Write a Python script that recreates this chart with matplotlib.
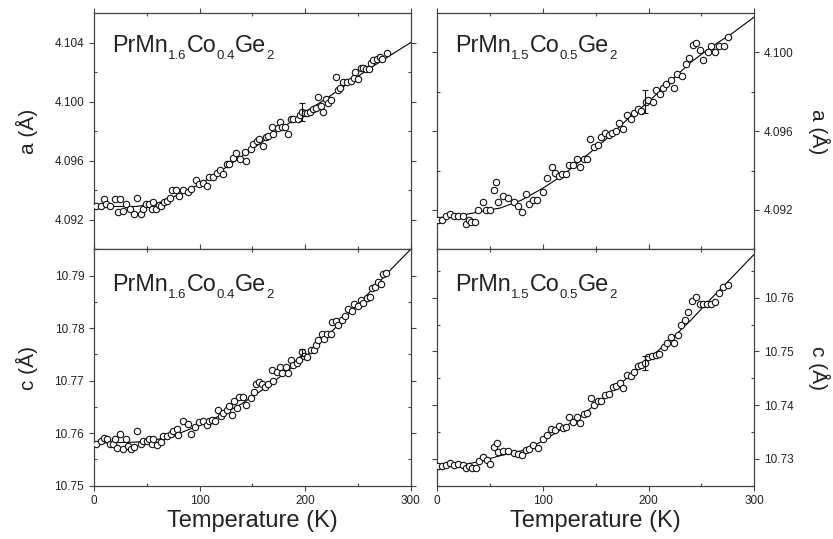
import matplotlib
matplotlib.use("Agg")
import matplotlib.pyplot as plt
from matplotlib.ticker import MultipleLocator, FormatStrFormatter
from matplotlib.transforms import offset_copy

plt.rcParams['font.family'] = ['Liberation Sans', 'DejaVu Sans']

# ---------------- data ----------------
# Top-left: a(T), PrMn1.6Co0.4Ge2
t_a16 = [1.6, 6.3, 9.5, 11.4, 15.2, 19.9, 23.1, 24.6, 27.8, 30.3, 34.1, 37.9, 41.0, 44.2, 46.1,
         48.9, 52.1, 54.6, 56.2, 58.7, 61.6, 63.5, 66.6, 68.8, 72.0, 74.2, 77.7, 80.5, 84.0, 89.4,
         92.2, 96.3, 99.8, 103.6, 107.4, 108.9, 113.0, 116.2, 119.4, 122.5, 125.7, 128.2, 132.0,
         134.2, 138.0, 143.0, 144.3, 148.4, 150.9, 154.1, 156.6, 160.4, 162.6, 165.1, 168.3, 169.9,
         174.0, 176.2, 177.8, 181.2, 184.1, 186.3, 188.8, 193.6, 195.1, 196.7, 199.9, 202.1, 204.9,
         207.8, 210.0, 212.5, 214.7, 217.2, 219.5, 222.0, 224.5, 229.2, 230.8, 233.0, 236.2, 239.3,
         243.1, 246.3, 247.2, 250.1, 252.9, 255.1, 257.7, 260.5, 262.1, 264.6, 267.8, 270.9, 272.5,
         277.2]
a16 = [4.0929, 4.0929, 4.0934, 4.0931, 4.0929, 4.0934, 4.0925, 4.0934, 4.0926, 4.0931, 4.0927,
       4.0924, 4.0935, 4.0924, 4.0927, 4.0931, 4.0931, 4.0927, 4.0932, 4.0927, 4.0930, 4.0929,
       4.0932, 4.0933, 4.0935, 4.0940, 4.0940, 4.0936, 4.0940, 4.0939, 4.0941, 4.0947, 4.0944,
       4.0945, 4.0943, 4.0949, 4.0949, 4.0952, 4.0954, 4.0951, 4.0958, 4.0958, 4.0962, 4.0965,
       4.0961, 4.0966, 4.0960, 4.0968, 4.0971, 4.0973, 4.0975, 4.0970, 4.0976, 4.0977, 4.0983,
       4.0978, 4.0982, 4.0986, 4.0983, 4.0983, 4.0978, 4.0988, 4.0988, 4.0988, 4.0991, 4.0993,
       4.0992, 4.0992, 4.0993, 4.0995, 4.0996, 4.1003, 4.0997, 4.0993, 4.1002, 4.0999, 4.1001,
       4.1017, 4.1008, 4.1009, 4.1013, 4.1013, 4.1014, 4.1016, 4.1020, 4.1015, 4.1023, 4.1023,
       4.1022, 4.1022, 4.1026, 4.1028, 4.1029, 4.1030, 4.1029, 4.1033]
fit_t = [0, 20, 40, 60, 80, 100, 120, 140, 160, 180, 200, 220, 240, 260, 280, 300]
fit_a16 = [4.0930, 4.0929, 4.0929, 4.0931, 4.0937, 4.0944, 4.0953, 4.0963, 4.0973, 4.0983,
           4.0993, 4.1002, 4.1012, 4.1022, 4.1031, 4.1040]
err_a16 = (197.0, 4.0993, 0.0006)

# Top-right: a(T), PrMn1.5Co0.5Ge2
t_a15 = [1.3, 4.4, 8.5, 12.6, 16.4, 19.5, 24.3, 27.1, 30.3, 32.1, 35.9, 39.1, 43.2, 46.0, 50.1,
         53.9, 56.1, 58.0, 62.1, 66.8, 73.1, 76.3, 80.1, 84.1, 87.0, 91.1, 94.9, 100.2, 103.7,
         108.4, 111.6, 115.3, 118.5, 122.0, 124.8, 128.9, 132.0, 135.2, 138.7, 141.5, 145.0, 148.8,
         152.5, 154.7, 158.8, 162.6, 165.1, 169.2, 172.4, 176.2, 179.3, 183.1, 186.3, 190.4, 192.9,
         197.3, 199.8, 204.5, 206.7, 210.8, 213.4, 216.5, 220.9, 224.1, 227.2, 231.3, 235.1, 238.6,
         241.7, 244.9, 248.7, 251.8, 255.9, 258.7, 262.8, 266.6, 271.3, 275.4]
a15 = [4.0915, 4.0915, 4.0917, 4.0918, 4.0917, 4.0917, 4.0917, 4.0913, 4.0915, 4.0914, 4.0914,
       4.0920, 4.0924, 4.0920, 4.0920, 4.0930, 4.0934, 4.0924, 4.0927, 4.0926, 4.0924, 4.0922,
       4.0919, 4.0928, 4.0923, 4.0925, 4.0925, 4.0929, 4.0936, 4.0942, 4.0939, 4.0937, 4.0938,
       4.0938, 4.0943, 4.0943, 4.0946, 4.0942, 4.0946, 4.0946, 4.0956, 4.0952, 4.0953, 4.0957,
       4.0959, 4.0958, 4.0959, 4.0960, 4.0964, 4.0961, 4.0968, 4.0966, 4.0969, 4.0971, 4.0970,
       4.0975, 4.0976, 4.0975, 4.0981, 4.0979, 4.0982, 4.0984, 4.0986, 4.0982, 4.0989, 4.0988,
       4.0994, 4.0997, 4.1004, 4.1005, 4.1001, 4.0996, 4.1000, 4.1003, 4.1000, 4.1003, 4.1003,
       4.1008]
fit_a15 = [4.0916, 4.0917, 4.0919, 4.0921, 4.0925, 4.0931, 4.0938, 4.0947, 4.0956, 4.0966,
           4.0975, 4.0985, 4.0995, 4.1003, 4.1010, 4.1018]
err_a15 = (197.0, 4.0975, 0.0006)

# Bottom-left: c(T), PrMn1.6Co0.4Ge2
t_c16 = [1.6, 6.3, 9.5, 12.0, 15.2, 17.7, 19.9, 22.1, 24.6, 27.8, 30.0, 32.5, 35.0, 38.2, 41.0,
         44.2, 46.7, 49.9, 52.1, 54.6, 56.2, 59.4, 63.2, 65.7, 68.8, 72.6, 75.2, 78.3, 79.9, 84.0,
         88.7, 91.9, 95.7, 99.8, 103.6, 106.7, 109.3, 112.1, 114.6, 117.2, 120.0, 122.5, 125.7,
         128.2, 130.4, 133.0, 135.8, 137.7, 140.8, 144.0, 148.4, 151.6, 153.1, 156.3, 158.8, 162.0,
         165.1, 168.3, 169.9, 173.0, 176.2, 178.4, 181.6, 184.1, 186.3, 188.8, 192.0, 194.2, 196.7,
         198.9, 202.1, 205.2, 208.4, 210.3, 212.5, 215.7, 217.9, 220.4, 224.2, 225.1, 228.9, 231.4,
         234.6, 237.8, 240.3, 244.1, 246.6, 249.8, 252.9, 255.1, 258.3, 261.5, 263.0, 266.2, 268.7,
         271.6, 273.4, 276.6]
c16 = [10.7579, 10.7585, 10.7590, 10.7588, 10.7579, 10.7579, 10.7589, 10.7572, 10.7598, 10.7569,
       10.7589, 10.7575, 10.7569, 10.7574, 10.7604, 10.7579, 10.7586, 10.7586, 10.7589, 10.7580,
       10.7589, 10.7577, 10.7584, 10.7595, 10.7595, 10.7599, 10.7605, 10.7607, 10.7597, 10.7624,
       10.7617, 10.7599, 10.7612, 10.7621, 10.7623, 10.7616, 10.7624, 10.7626, 10.7624, 10.7645,
       10.7633, 10.7639, 10.7645, 10.7652, 10.7635, 10.7661, 10.7647, 10.7668, 10.7668, 10.7654,
       10.7666, 10.7678, 10.7694, 10.7697, 10.7694, 10.7687, 10.7694, 10.7720, 10.7699, 10.7717,
       10.7726, 10.7715, 10.7725, 10.7715, 10.7739, 10.7729, 10.7734, 10.7740, 10.7755, 10.7746,
       10.7745, 10.7758, 10.7758, 10.7767, 10.7777, 10.7788, 10.7779, 10.7788, 10.7788, 10.7812,
       10.7813, 10.7805, 10.7815, 10.7823, 10.7837, 10.7832, 10.7845, 10.7842, 10.7853, 10.7848,
       10.7858, 10.7859, 10.7877, 10.7878, 10.7888, 10.7883, 10.7903, 10.7905]
fit_c16 = [10.7581, 10.7582, 10.7583, 10.7588, 10.7599, 10.7615, 10.7634, 10.7656, 10.7683,
           10.7713, 10.7745, 10.7783, 10.7824, 10.7866, 10.7909, 10.7950]
err_c16 = (197.0, 10.7753, 0.0007)

# Bottom-right: c(T), PrMn1.5Co0.5Ge2
t_c15 = [1.3, 4.4, 8.5, 12.6, 16.4, 20.2, 24.3, 27.1, 30.3, 32.8, 36.6, 39.7, 43.2, 47.0, 50.1,
         53.9, 56.4, 58.0, 62.1, 67.4, 73.1, 76.9, 80.1, 84.1, 87.3, 91.1, 95.8, 100.5, 103.7,
         107.8, 111.6, 115.3, 118.8, 122.0, 125.1, 128.9, 132.0, 135.2, 138.7, 141.8, 145.3, 148.8,
         152.5, 155.1, 158.8, 162.9, 166.1, 169.2, 173.0, 176.2, 180.0, 183.1, 186.3, 189.7, 192.9,
         196.7, 199.2, 203.0, 206.7, 209.9, 214.6, 217.1, 220.9, 224.1, 227.5, 230.7, 234.5, 237.6,
         241.4, 244.6, 248.7, 251.8, 255.6, 258.7, 262.8, 266.9, 270.7, 274.8]
c15 = [10.7286, 10.7286, 10.7288, 10.7292, 10.7289, 10.7291, 10.7289, 10.7283, 10.7287, 10.7283,
       10.7283, 10.7296, 10.7304, 10.7298, 10.7291, 10.7322, 10.7330, 10.7312, 10.7315, 10.7315,
       10.7311, 10.7309, 10.7307, 10.7317, 10.7318, 10.7325, 10.7320, 10.7337, 10.7345, 10.7356,
       10.7354, 10.7361, 10.7357, 10.7360, 10.7377, 10.7368, 10.7377, 10.7366, 10.7383, 10.7385,
       10.7413, 10.7400, 10.7408, 10.7408, 10.7419, 10.7421, 10.7433, 10.7435, 10.7442, 10.7431,
       10.7456, 10.7454, 10.7462, 10.7472, 10.7475, 10.7479, 10.7489, 10.7491, 10.7493, 10.7496,
       10.7508, 10.7516, 10.7526, 10.7515, 10.7530, 10.7550, 10.7558, 10.7574, 10.7594, 10.7602,
       10.7589, 10.7589, 10.7589, 10.7589, 10.7591, 10.7609, 10.7620, 10.7623]
fit_c15 = [10.7284, 10.7287, 10.7295, 10.7306, 10.7315, 10.7333, 10.7358, 10.7386, 10.7417,
           10.7451, 10.7486, 10.7520, 10.7558, 10.7600, 10.7640, 10.7681]
err_c15 = (197.0, 10.7478, 0.0013)

x_ticks = [0, 100, 200, 300]
title16 = [('PrMn', False), ('1.6', True), ('Co', False), ('0.4', True), ('Ge', False), ('2', True)]
title15 = [('PrMn', False), ('1.5', True), ('Co', False), ('0.5', True), ('Ge', False), ('2', True)]

# ---------------- figure ----------------
W, H = 833, 539
fig = plt.figure(figsize=(W / 100, H / 100), dpi=100)
renderer = fig.canvas.get_renderer()

def box(x0, x1, ytop, ybot):
    return [x0 / W, 1 - ybot / H, (x1 - x0) / W, (ybot - ytop) / H]

ax_tl = fig.add_axes(box(94, 410.7, 13, 249.3))
ax_tr = fig.add_axes(box(437, 754.3, 13, 249.3))
ax_bl = fig.add_axes(box(94, 410.7, 249.3, 485.7))
ax_br = fig.add_axes(box(437, 754.3, 249.3, 485.7))

spine_col = '#444444'
text_col = '#222222'

def formula(ax, x, y, pieces, size=16.8, subsize=9.5, drop=5.2):
    """Draw chemical formula with real subscripts, baseline at (x, y) axes fraction."""
    dx = 0.0
    for txt, sub in pieces:
        tr = offset_copy(ax.transAxes, fig=fig, x=dx, y=(-drop if sub else 0.0), units='points')
        t = ax.text(x, y, txt, transform=tr, fontsize=(subsize if sub else size),
                    color=text_col, ha='left', va='baseline')
        bb = t.get_window_extent(renderer=renderer)
        dx += bb.width * 72.0 / fig.dpi

panels = [
    (ax_tl, t_a16, a16, fit_a16, err_a16, (4.090, 4.106), 0.004, 0.002, '%.3f', 'a (Å)', 'left', title16, 0.835, False),
    (ax_tr, t_a15, a15, fit_a15, err_a15, (4.090, 4.102), 0.004, 0.002, '%.3f', 'a (Å)', 'right', title15, 0.835, False),
    (ax_bl, t_c16, c16, fit_c16, err_c16, (10.750, 10.795), 0.01, 0.005, '%.2f', 'c (Å)', 'left', title16, 0.825, True),
    (ax_br, t_c15, c15, fit_c15, err_c15, (10.725, 10.769), 0.01, 0.005, '%.2f', 'c (Å)', 'right', title15, 0.825, True),
]

for ax, tt, vv, fv, err, ylim, maj, mnr, fmt, ylab, side, title, ty, bottom in panels:
    ax.plot(fit_t, fv, color='black', lw=0.8, zorder=2)
    ax.plot(tt, vv, ls='none', marker='o', ms=4.6, mfc='white', mec='#111111', mew=0.8, zorder=3)
    ax.errorbar([err[0]], [err[1]], yerr=[err[2]], fmt='none', ecolor='#111111',
                elinewidth=0.8, capsize=2.5, capthick=0.8, zorder=4)
    ax.set_xlim(0, 300)
    ax.set_ylim(*ylim)
    ax.set_xticks(x_ticks)
    ax.xaxis.set_minor_locator(MultipleLocator(50))
    ax.yaxis.set_major_locator(MultipleLocator(maj))
    ax.yaxis.set_minor_locator(MultipleLocator(mnr))
    ax.yaxis.set_major_formatter(FormatStrFormatter(fmt))
    for s in ax.spines.values():
        s.set_color(spine_col)
        s.set_linewidth(0.9)
    ax.tick_params(which='both', colors=spine_col, labelcolor=text_col, labelsize=8.5, width=0.8)
    ax.tick_params(which='major', direction='out', length=3.5)
    ax.tick_params(which='minor', direction='in', length=2.5)
    if side == 'left':
        ax.tick_params(axis='y', which='both', left=True, right=True, labelleft=True, labelright=False)
        ax.set_ylabel(ylab, fontsize=15, color=text_col, labelpad=12)
    else:
        ax.tick_params(axis='y', which='both', left=True, right=True, labelleft=False, labelright=True)
        ax.yaxis.set_label_position('right')
        ax.set_ylabel(ylab, fontsize=15, color=text_col, rotation=270, va='bottom', labelpad=10)
    ax.tick_params(axis='x', which='both', top=True, bottom=True, labelbottom=bottom)
    if bottom:
        ax.set_xlabel('Temperature (K)', fontsize=17, color=text_col, labelpad=2)
    formula(ax, 0.058, ty, title)

fig.savefig('out.png', dpi=100)
